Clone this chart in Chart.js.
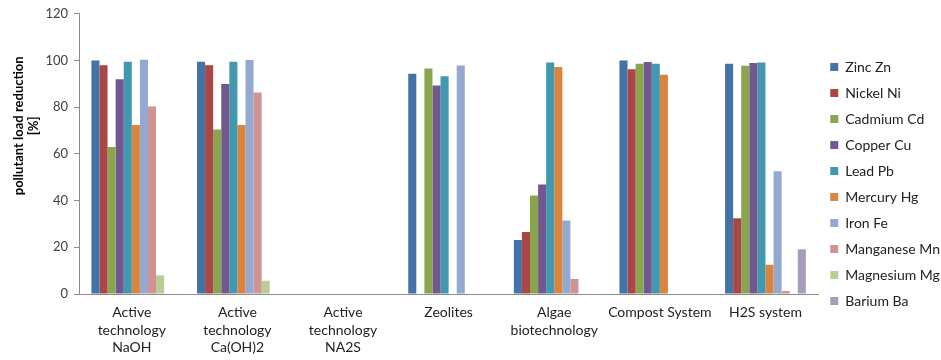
<!DOCTYPE html>
<html>
<head>
<meta charset="utf-8">
<script src="https://cdn.jsdelivr.net/npm/chart.js@4/dist/chart.umd.min.js"></script>
<style>
  html, body { margin: 0; padding: 0; background: #ffffff; }
  #wrap { width: 941px; height: 360px; position: relative; }
</style>
</head>
<body>
<div id="wrap"><canvas id="chart" width="941" height="360"></canvas></div>
<script>
// Treatment technologies (multi-line category labels)
const categories = [
  ["Active", "technology", "NaOH"],
  ["Active", "technology", "Ca(OH)2"],
  ["Active", "technology", "NA2S"],
  "Zeolites",
  ["Algae", "biotechnology"],
  "Compost System",
  "H2S system"
];

// Reduction of pollutant load per metal [%]; null = not reported
const zinc      = [100, 99.5, null, 94.3, 23.1, 100, 98.6];
const nickel    = [98, 98, null, null, 26.5, 96.2, 32.4];
const cadmium   = [63, 70.4, null, 96.6, 42.2, 98.6, 97.8];
const copper    = [92, 89.9, null, 89.3, 46.9, 99.4, 98.9];
const lead      = [99.5, 99.5, null, 93.3, 99.1, 98.6, 99.1];
const mercury   = [72.4, 72.4, null, null, 97.2, 93.9, 12.5];
const iron      = [100.3, 100.2, null, 97.9, 31.5, null, 52.6];
const manganese = [80.3, 86.3, null, null, 6.4, null, 1.3];
const magnesium = [8, 5.7, null, null, null, null, null];
const barium    = [null, null, null, null, null, null, 19.2];

const seriesNames = ["Zinc Zn", "Nickel Ni", "Cadmium Cd", "Copper Cu", "Lead Pb",
  "Mercury Hg", "Iron Fe", "Manganese Mn", "Magnesium Mg", "Barium Ba"];
const seriesValues = [zinc, nickel, cadmium, copper, lead, mercury, iron, manganese, magnesium, barium];
const seriesColors = ["#4572A7", "#AA4643", "#89A54E", "#71588F", "#4198AF",
  "#DB843D", "#93A9CF", "#D19392", "#B9CD96", "#A99BBD"];

const yTicks = [0, 20, 40, 60, 80, 100, 120];
const yTitle = ["pollutant load reduction", "[%]"];

const FONT = "Lato, 'Open Sans', sans-serif";

// Two-line rotated value-axis title, set in the left margin
const yTitlePlugin = {
  id: "yTitle",
  afterDraw(chart) {
    const { ctx, chartArea } = chart;
    const cy = chartArea.top + 112;
    ctx.save();
    ctx.fillStyle = "#000000";
    ctx.font = "bold 13px " + FONT;
    ctx.textAlign = "center";
    ctx.textBaseline = "middle";
    yTitle.forEach((line, i) => {
      ctx.save();
      ctx.translate(19 + i * 15, cy);
      ctx.rotate(-Math.PI / 2);
      ctx.fillText(line, 0, 0);
      ctx.restore();
    });
    ctx.restore();
  }
};

new Chart(document.getElementById("chart"), {
  type: "bar",
  data: {
    labels: categories,
    datasets: seriesNames.map((name, i) => ({
      label: name,
      data: seriesValues[i],
      backgroundColor: seriesColors[i],
      borderWidth: 0
    }))
  },
  options: {
    responsive: false,
    animation: false,
    layout: { padding: { top: 8, right: -9, left: 0, bottom: 0 } },
    datasets: { bar: { categoryPercentage: 0.765, barPercentage: 1.0 } },
    plugins: {
      tooltip: { enabled: false },
      legend: {
        position: "right",
        align: "center",
        labels: {
          boxWidth: 8,
          boxHeight: 8,
          padding: 12,
          color: "#222222",
          font: { family: FONT, size: 14 }
        }
      }
    },
    scales: {
      x: {
        grid: { display: false, drawTicks: false },
        border: { display: true, color: "#8c8c8c", width: 1 },
        ticks: {
          color: "#222222",
          font: { family: FONT, size: 14, lineHeight: 1.25 },
          padding: 10,
          maxRotation: 0,
          autoSkip: false
        },
        afterFit: (axis) => { axis.height = 66; }
      },
      y: {
        min: 0,
        max: 120,
        afterBuildTicks: (axis) => { axis.ticks = yTicks.map(v => ({ value: v })); },
        grid: {
          drawOnChartArea: false,
          drawTicks: true,
          tickLength: 5,
          tickColor: "#8c8c8c"
        },
        border: { display: true, color: "#8c8c8c", width: 1 },
        ticks: {
          color: "#404040",
          font: { family: FONT, size: 13 },
          padding: 6
        },
        afterFit: (axis) => { axis.width = 79; }
      }
    }
  },
  plugins: [yTitlePlugin]
});
</script>
</body>
</html>
